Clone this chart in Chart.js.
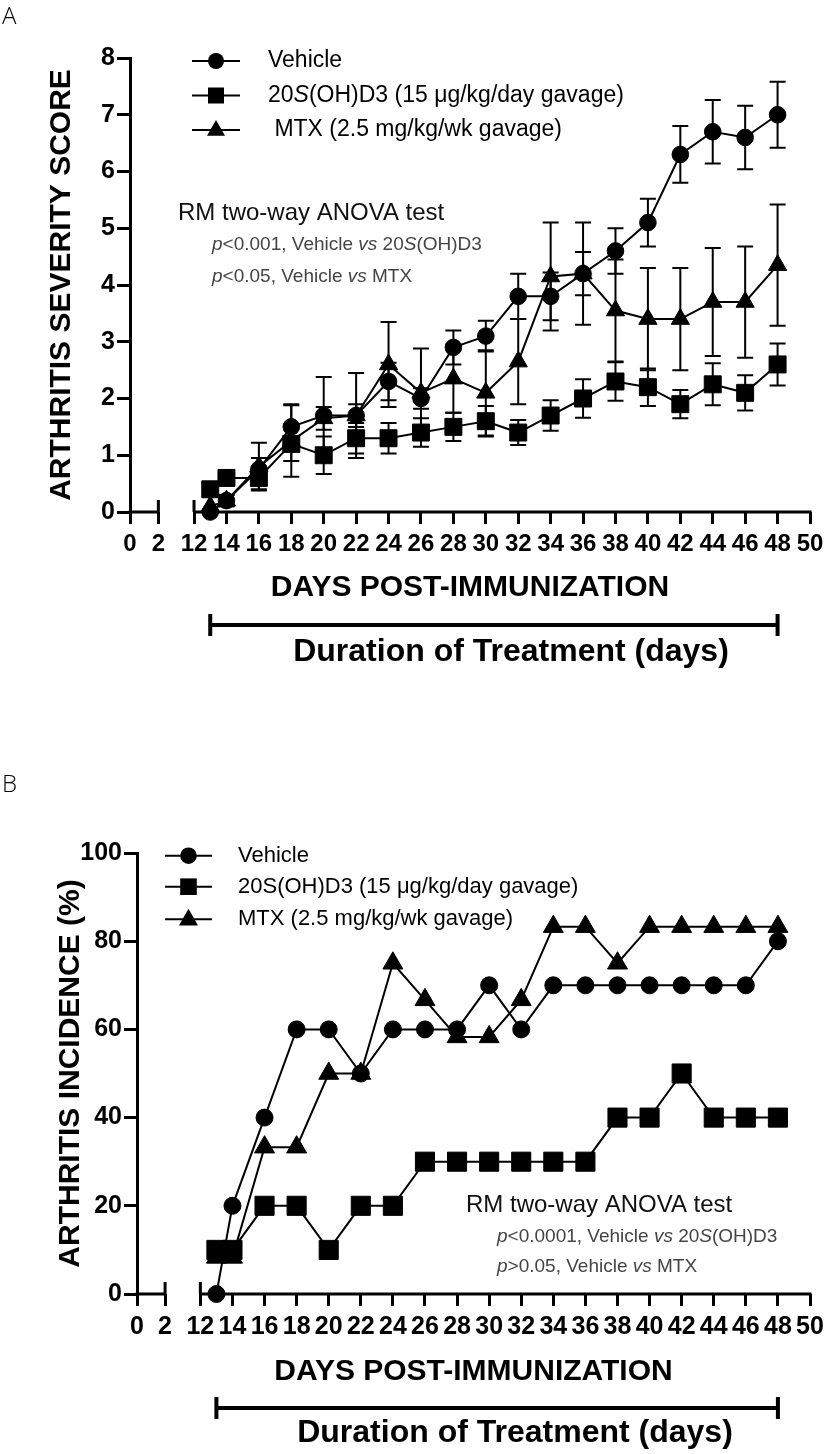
<!DOCTYPE html>
<html lang="en">
<head>
<meta charset="utf-8">
<title>Arthritis severity and incidence</title>
<script src="https://cdn.jsdelivr.net/npm/chart.js"></script>
<style>
  body { margin: 0; background: #fff; width: 836px; height: 1454px; position: relative; overflow: hidden; }
  .panel { position: absolute; left: 0; width: 836px; }
  #boxA { top: 0; height: 700px; }
  #boxB { top: 700px; height: 754px; }
  .tag { position: absolute; left: 2px; font: 300 24px/24px 'Open Sans', sans-serif; color: #000; }
</style>
</head>
<body>
<div class="panel" id="boxA"><canvas id="chartA"></canvas></div>
<div class="panel" id="boxB"><canvas id="chartB"></canvas></div>
<div class="tag" style="top:3px">A</div>
<div class="tag" style="top:771px">B</div>

<script>
  const FONT = "'Liberation Sans', Arial, sans-serif";

  const days = [13, 14, 16, 18, 20, 22, 24, 26, 28, 30, 32, 34, 36, 38, 40, 42, 44, 46, 48];

  // A: arthritis severity score (mean, SEM)
  const scoreVehicle = [0, 0.2, 0.75, 1.5, 1.7, 1.7, 2.3, 2.0, 2.9, 3.1, 3.8, 3.8, 4.2, 4.6, 5.1, 6.3, 6.7, 6.6, 7.0];
  const scoreVehicleSem = [0, 0.1, 0.2, 0.4, 0.68, 0.75, 0.33, 0.18, 0.3, 0.27, 0.4, 0.42, 0.38, 0.4, 0.42, 0.5, 0.56, 0.56, 0.58];
  const score20S = [0.4, 0.6, 0.6, 1.2, 1.0, 1.3, 1.3, 1.4, 1.5, 1.6, 1.4, 1.7, 2.0, 2.3, 2.2, 1.9, 2.25, 2.1, 2.6];
  const score20SSem = [0, 0.1, 0.2, 0.3, 0.33, 0.27, 0.27, 0.25, 0.25, 0.27, 0.22, 0.27, 0.34, 0.34, 0.33, 0.25, 0.37, 0.31, 0.37];
  const scoreMtx = [0.1, 0.2, 0.8, 1.25, 1.65, 1.7, 2.6, 2.1, 2.35, 2.1, 2.65, 4.15, 4.2, 3.55, 3.4, 3.4, 3.7, 3.7, 4.35];
  const scoreMtxSem = [0, 0.1, 0.42, 0.63, 0.2, 0.2, 0.75, 0.78, 0.6, 0.75, 0.75, 0.95, 0.9, 0.9, 0.9, 0.9, 0.95, 0.98, 1.07];

  // B: arthritis incidence (%)
  const incVehicle = [0, 20, 40, 60, 60, 50, 60, 60, 60, 70, 60, 70, 70, 70, 70, 70, 70, 70, 80];
  const inc20S = [10, 10, 20, 20, 10, 20, 20, 30, 30, 30, 30, 30, 30, 40, 40, 50, 40, 40, 40];
  const incMtx = [8.3, 8.3, 33.3, 33.3, 50, 50, 75, 66.7, 58.3, 58.3, 66.7, 83.3, 83.3, 75, 83.3, 83.3, 83.3, 83.3, 83.3];

  // broken x axis: "0" and "2" sit on a short stub left of the break
  const xTickValues = [8.05, 9.8, 12, 14, 16, 18, 20, 22, 24, 26, 28, 30, 32, 34, 36, 38, 40, 42, 44, 46, 48, 50];
  const xTickLabels = ['0', '2', '12', '14', '16', '18', '20', '22', '24', '26', '28', '30', '32', '34', '36', '38', '40', '42', '44', '46', '48', '50'];
  const treatmentDays = [13, 48];

  function series(label, values, sem, style, radius) {
    return {
      label: label,
      data: days.map((d, i) => ({ x: d, y: values[i] })),
      sem: sem,
      borderColor: '#000',
      backgroundColor: '#000',
      borderWidth: 2,
      pointStyle: style,
      pointRadius: radius,
      pointHoverRadius: radius,
      pointBackgroundColor: '#000',
      pointBorderColor: '#000',
      pointBorderWidth: 1,
      tension: 0,
      fill: false,
      clip: false
    };
  }

  function marker(ctx, style, x, y, r) {
    ctx.beginPath();
    if (style === 'circle') ctx.arc(x, y, r, 0, Math.PI * 2);
    else if (style === 'rect') ctx.rect(x - r, y - r, 2 * r, 2 * r);
    else { ctx.moveTo(x, y - r * 1.1); ctx.lineTo(x + r, y + r * 0.65); ctx.lineTo(x - r, y + r * 0.65); ctx.closePath(); }
    ctx.fill();
  }

  // text with italic pieces: parts = [[text, italic], ...]
  function rich(ctx, parts, x, y, size, color) {
    ctx.fillStyle = color;
    ctx.textBaseline = 'middle';
    ctx.textAlign = 'left';
    parts.forEach(([t, it]) => {
      ctx.font = (it ? 'italic ' : '') + size + 'px ' + FONT;
      ctx.fillText(t, x, y);
      x += ctx.measureText(t).width;
    });
  }

  function decor(p) {
    return {
      id: 'decor',
      beforeDatasetsDraw(chart) {
        const { ctx, chartArea, scales: { x, y } } = chart;
        const yb = chartArea.bottom;
        ctx.save();
        ctx.strokeStyle = '#000';
        ctx.lineWidth = 3;
        const stubEnd = x.getPixelForValue(xTickValues[1]);
        const mainStart = x.getPixelForValue(xTickValues[2]);
        ctx.beginPath();
        ctx.moveTo(chartArea.left - 1.5, yb); ctx.lineTo(stubEnd, yb);
        ctx.moveTo(mainStart, yb); ctx.lineTo(chartArea.right + 1.5, yb);
        [stubEnd, mainStart].forEach(px => { ctx.moveTo(px, yb - 12); ctx.lineTo(px, yb); });
        ctx.stroke();

        // SEM error bars
        ctx.lineWidth = 2;
        chart.data.datasets.forEach((ds, i) => {
          if (!ds.sem) return;
          chart.getDatasetMeta(i).data.forEach((pt, j) => {
            const e = ds.sem[j];
            if (!e) return;
            const v = ds.data[j].y;
            const t = y.getPixelForValue(v + e), b = y.getPixelForValue(v - e);
            ctx.beginPath();
            ctx.moveTo(pt.x, t); ctx.lineTo(pt.x, b);
            ctx.moveTo(pt.x - 8, t); ctx.lineTo(pt.x + 8, t);
            ctx.moveTo(pt.x - 8, b); ctx.lineTo(pt.x + 8, b);
            ctx.stroke();
          });
        });
        ctx.restore();
      },
      afterDraw(chart) {
        const { ctx, scales: { x } } = chart;
        ctx.save();
        ctx.fillStyle = '#000';
        ctx.strokeStyle = '#000';

        // legend
        chart.data.datasets.forEach((ds, i) => {
          const ly = p.legendY[i];
          ctx.lineWidth = 2;
          ctx.beginPath();
          ctx.moveTo(p.legendX[0], ly); ctx.lineTo(p.legendX[1], ly);
          ctx.stroke();
          ctx.fillStyle = '#000';
          marker(ctx, ds.pointStyle, (p.legendX[0] + p.legendX[1]) / 2, ly, p.legendMarker[i]);
          rich(ctx, p.legendText[i], p.legendTextX, ly, p.legendSize, '#000');
        });

        // statistics note
        rich(ctx, [[p.noteTitle, false]], p.noteX, p.noteY[0], p.noteSize, '#111');
        rich(ctx, p.noteLines[0], p.noteX2, p.noteY[1], p.noteSmall, '#444');
        rich(ctx, p.noteLines[1], p.noteX2, p.noteY[2], p.noteSmall, '#444');

        // treatment duration bar
        const x0 = x.getPixelForValue(treatmentDays[0]);
        const x1 = x.getPixelForValue(treatmentDays[1]);
        ctx.lineWidth = 4;
        ctx.beginPath();
        ctx.moveTo(x0, p.barY); ctx.lineTo(x1, p.barY);
        ctx.moveTo(x0, p.barY - 11); ctx.lineTo(x0, p.barY + 11);
        ctx.moveTo(x1, p.barY - 11); ctx.lineTo(x1, p.barY + 11);
        ctx.stroke();
        ctx.fillStyle = '#000';
        ctx.font = 'bold 32px ' + FONT;
        ctx.textAlign = 'center';
        ctx.textBaseline = 'middle';
        ctx.fillText('Duration of Treatment (days)', p.durX, p.durY);
        ctx.restore();
      }
    };
  }

  function makeChart(id, datasets, p) {
    return new Chart(document.getElementById(id), {
      type: 'line',
      data: { datasets: datasets },
      options: {
        responsive: true,
        maintainAspectRatio: false,
        animation: false,
        events: [],
        layout: { padding: { top: p.top, right: 26, left: 0, bottom: 0 } },
        plugins: { legend: { display: false }, tooltip: { enabled: false } },
        scales: {
          x: {
            type: 'linear',
            min: 8.05,
            max: 50,
            afterBuildTicks: s => { s.ticks = xTickValues.map(v => ({ value: v })); },
            afterFit: s => { s.height = p.xHeight; },
            ticks: {
              callback: (v, i) => xTickLabels[i],
              autoSkip: false, maxRotation: 0, minRotation: 0,
              color: '#000', padding: p.xTickPad,
              font: { family: FONT, weight: 'bold', size: p.xTickSize }
            },
            grid: { drawOnChartArea: false, tickLength: 12, color: '#000', lineWidth: 3 },
            border: { display: false },
            title: {
              display: true, text: 'DAYS POST-IMMUNIZATION', color: '#000',
              font: { family: FONT, weight: 'bold', size: 30 },
              padding: { top: 0, bottom: p.xTitlePad }
            }
          },
          y: {
            min: 0,
            max: p.yMax,
            afterFit: s => { s.width = p.yWidth; },
            ticks: {
              stepSize: p.yStep, color: '#000', padding: 2,
              font: { family: FONT, weight: 'bold', size: p.yTickSize }
            },
            grid: { drawOnChartArea: false, tickLength: 13, color: '#000', lineWidth: 3 },
            border: { display: true, color: '#000', width: 3 },
            title: {
              display: true, text: p.yTitle, color: '#000',
              font: { family: FONT, weight: 'bold', size: 30 },
              padding: { top: p.yTitlePad, bottom: 0 }
            }
          }
        }
      },
      plugins: [decor(p)]
    });
  }

  makeChart('chartA', [
    series('Vehicle', scoreVehicle, scoreVehicleSem, 'circle', 8.3),
    series('20S(OH)D3 (15 μg/kg/day gavage)', score20S, score20SSem, 'rect', 12),
    series('MTX (2.5 mg/kg/wk gavage)', scoreMtx, scoreMtxSem, 'triangle', 10.5)
  ], {
    top: 58, xHeight: 188, yWidth: 130, xTickPad: 6, xTickSize: 24, yTickSize: 25,
    xTitlePad: 94, yTitlePad: 44, yMax: 8, yStep: 1, yTitle: 'ARTHRITIS SEVERITY SCORE',
    legendX: [192, 240], legendY: [61, 95.5, 130], legendMarker: [8, 8, 9], legendTextX: 268, legendSize: 23,
    legendText: [
      [['Vehicle', false]],
      [['20', false], ['S', true], ['(OH)D3 (15 μg/kg/day gavage)', false]],
      [[' MTX (2.5 mg/kg/wk gavage)', false]]
    ],
    noteTitle: 'RM two-way ANOVA test', noteX: 178, noteX2: 212, noteY: [213, 245, 277], noteSize: 24, noteSmall: 19,
    noteLines: [
      [['p', true], ['<0.001, Vehicle ', false], ['vs', true], [' 20', false], ['S', true], ['(OH)D3', false]],
      [['p', true], ['<0.05, Vehicle ', false], ['vs', true], [' MTX', false]]
    ],
    barY: 625, durX: 511, durY: 652
  });

  makeChart('chartB', [
    series('Vehicle', incVehicle, null, 'circle', 8.5),
    series('20S(OH)D3 (15 μg/kg/day gavage)', inc20S, null, 'rect', 13.5),
    series('MTX (2.5 mg/kg/wk gavage)', incMtx, null, 'triangle', 11.5)
  ], {
    top: 153, xHeight: 160, yWidth: 137, xTickPad: 6, xTickSize: 25, yTickSize: 25,
    xTitlePad: 64, yTitlePad: 53, yMax: 100, yStep: 20, yTitle: 'ARTHRITIS INCIDENCE (%)',
    legendX: [165, 212], legendY: [155.7, 186.7, 219.3], legendMarker: [8.3, 8.3, 9.5], legendTextX: 238, legendSize: 22,
    legendText: [
      [['Vehicle', false]],
      [['20S(OH)D3 (15 μg/kg/day gavage)', false]],
      [['MTX (2.5 mg/kg/wk gavage)', false]]
    ],
    noteTitle: 'RM two-way ANOVA test', noteX: 466, noteX2: 497, noteY: [505, 537, 567], noteSize: 24, noteSmall: 19,
    noteLines: [
      [['p', true], ['<0.0001, Vehicle ', false], ['vs', true], [' 20', false], ['S', true], ['(OH)D3', false]],
      [['p', true], ['>0.05, Vehicle ', false], ['vs', true], [' MTX', false]]
    ],
    barY: 708, durX: 515, durY: 733
  });
</script>
</body>
</html>
